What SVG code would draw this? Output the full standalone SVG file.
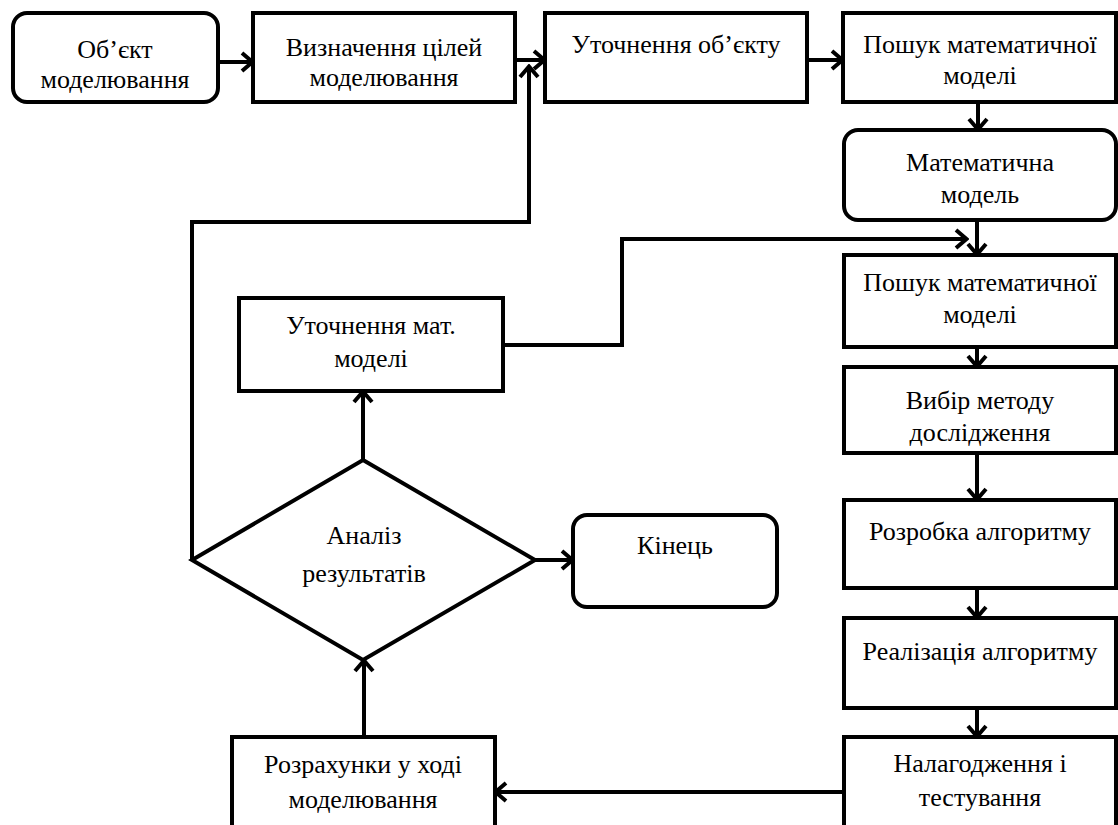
<svg xmlns="http://www.w3.org/2000/svg" width="1118" height="825" viewBox="0 0 1118 825">
<style>
.b{fill:#fff;stroke:#000;stroke-width:4}
.t{font-family:"Liberation Serif","Times New Roman",serif;font-size:26px;fill:#000;text-anchor:middle}
.c{fill:none;stroke:#000;stroke-width:4;stroke-linejoin:miter}
</style>
<defs>
<marker id="ah" viewBox="0 0 16 22" refX="14" refY="11" markerWidth="16" markerHeight="22" markerUnits="userSpaceOnUse" orient="auto">
<path d="M3,2 L13.5,11 L3,20" fill="none" stroke="#000" stroke-width="4"/>
</marker>
</defs>
<rect width="1118" height="825" fill="#fff"/>
<g id="connectors">
<line class="c" x1="218" y1="62" x2="253" y2="62" marker-end="url(#ah)"/>
<line class="c" x1="515" y1="60" x2="545" y2="60" marker-end="url(#ah)"/>
<line class="c" x1="807" y1="60" x2="843" y2="60" marker-end="url(#ah)"/>
<line class="c" x1="978" y1="102" x2="978" y2="130" marker-end="url(#ah)"/>
<line class="c" x1="977" y1="220" x2="977" y2="255" marker-end="url(#ah)"/>
<line class="c" x1="977" y1="347" x2="977" y2="367" marker-end="url(#ah)"/>
<line class="c" x1="977" y1="453" x2="977" y2="500" marker-end="url(#ah)"/>
<line class="c" x1="977" y1="588" x2="977" y2="618" marker-end="url(#ah)"/>
<line class="c" x1="977" y1="708" x2="977" y2="737" marker-end="url(#ah)"/>
<line class="c" x1="844" y1="792" x2="495" y2="792" marker-end="url(#ah)"/>
<line class="c" x1="364" y1="737" x2="364" y2="660" marker-end="url(#ah)"/>
<line class="c" x1="363" y1="460" x2="363" y2="391" marker-end="url(#ah)"/>
<line class="c" x1="535" y1="560" x2="573" y2="560" marker-end="url(#ah)"/>
<polyline class="c" points="503,345 622,345 622,239 967,239" marker-end="url(#ah)"/>
<polyline class="c" points="192,560 192,222 529,222 529,66" marker-end="url(#ah)"/>
</g>
<g id="n1"><rect class="b" x="13" y="13" width="205" height="89" rx="14"/><text class="t" x="115" y="58">Об’єкт</text><text class="t" x="115" y="88">моделювання</text></g>
<g id="n2"><rect class="b" x="253" y="13" width="262" height="89"/><text class="t" x="384" y="56">Визначення цілей</text><text class="t" x="384" y="86">моделювання</text></g>
<g id="n3"><rect class="b" x="545" y="13" width="262" height="89"/><text class="t" x="676" y="53">Уточнення об’єкту</text></g>
<g id="n4"><rect class="b" x="843" y="13" width="273" height="89"/><text class="t" x="980" y="53">Пошук математичної</text><text class="t" x="980" y="84">моделі</text></g>
<g id="n5"><rect class="b" x="844" y="130" width="272" height="90" rx="14"/><text class="t" x="980" y="171">Математична</text><text class="t" x="980" y="203">модель</text></g>
<g id="n6"><rect class="b" x="844" y="255" width="272" height="92"/><text class="t" x="980" y="291">Пошук математичної</text><text class="t" x="980" y="323">моделі</text></g>
<g id="n7"><rect class="b" x="844" y="367" width="272" height="86"/><text class="t" x="980" y="409">Вибір методу</text><text class="t" x="980" y="441">дослідження</text></g>
<g id="n8"><rect class="b" x="844" y="500" width="272" height="88"/><text class="t" x="980" y="540">Розробка алгоритму</text></g>
<g id="n9"><rect class="b" x="844" y="618" width="272" height="90"/><text class="t" x="980" y="660">Реалізація алгоритму</text></g>
<g id="n10"><rect class="b" x="844" y="737" width="272" height="100"/><text class="t" x="980" y="772">Налагодження і</text><text class="t" x="980" y="806">тестування</text></g>
<g id="n11"><rect class="b" x="232" y="737" width="263" height="100"/><text class="t" x="363" y="773">Розрахунки у ході</text><text class="t" x="363" y="808">моделювання</text></g>
<g id="n12"><rect class="b" x="239" y="298" width="264" height="93"/><text class="t" x="371" y="334">Уточнення мат.</text><text class="t" x="371" y="367">моделі</text></g>
<g id="n13"><polygon class="b" points="363,460 535,560 363,660 192,560"/><text class="t" x="364" y="544">Аналіз</text><text class="t" x="364" y="582">результатів</text></g>
<g id="n14"><rect class="b" x="573" y="515" width="204" height="92" rx="14"/><text class="t" x="675" y="554">Кінець</text></g>
</svg>
